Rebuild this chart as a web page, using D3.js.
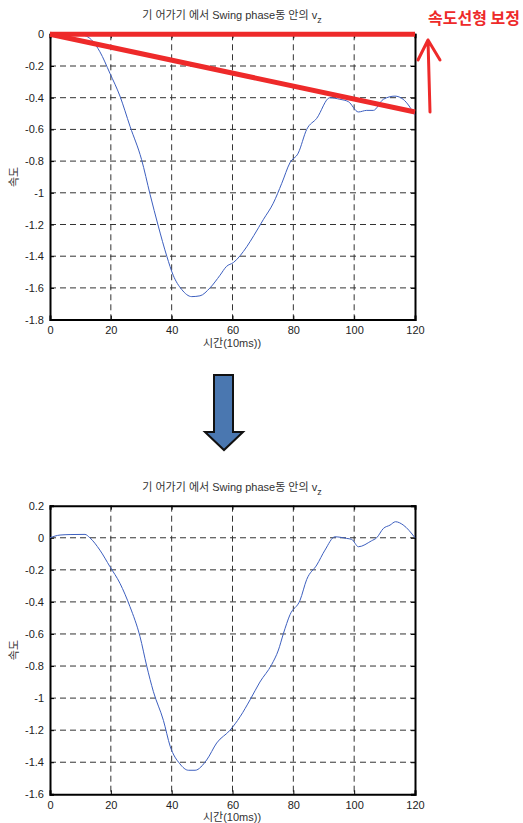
<!DOCTYPE html>
<html>
<head>
<meta charset="utf-8">
<script src="https://cdn.jsdelivr.net/npm/d3@7"></script>
<style>
  body { margin: 0; background: #fff; }
  text { font-family: "Liberation Sans", Arial, "Noto Sans CJK KR", sans-serif; }
</style>
</head>
<body>
<svg id="canvas" width="523" height="823"></svg>
<script>
// top chart: raw v_z (time in 10ms units)
const rawT = [0, 5, 10.4, 13.7, 16.4, 19.7, 23, 26.3, 30.1, 32.9, 35.6, 38.4, 40.5, 43.3, 46.6, 49.3, 52.6, 55.9, 58, 60.3, 64.7, 67, 70.1, 73.4, 76.2, 78.9, 81.6, 84.4, 87.7, 92, 95.3, 98.1, 101.4, 104.1, 106.3, 109.6, 113.4, 116.1, 120],
    rawV = [0, -0.002, -0.004, -0.036, -0.11, -0.246, -0.39, -0.58, -0.79, -1.01, -1.21, -1.40, -1.52, -1.61, -1.655, -1.65, -1.60, -1.52, -1.465, -1.44, -1.34, -1.27, -1.17, -1.066, -0.94, -0.81, -0.75, -0.60, -0.53, -0.40, -0.41, -0.425, -0.49, -0.48, -0.48, -0.41, -0.39, -0.41, -0.51];

// bottom chart: corrected v_z
const corT = [0, 3.3, 6.6, 11.5, 13.1, 16.4, 19.7, 23, 26.3, 29.6, 31.8, 34, 37.3, 39.5, 42.7, 45.5, 47.7, 51.5, 54.8, 59.2, 62.5, 65.8, 69, 72.9, 75.1, 76.7, 78.9, 82.2, 84.4, 87.7, 90.4, 93.7, 97.5, 99.2, 101.4, 105.7, 107.4, 109.6, 111.8, 113.6, 116.1, 120],
    corV = [0, 0.017, 0.02, 0.021, 0.0, -0.077, -0.18, -0.284, -0.43, -0.617, -0.80, -0.96, -1.14, -1.30, -1.41, -1.45, -1.45, -1.386, -1.28, -1.20, -1.116, -1.01, -0.90, -0.79, -0.70, -0.60, -0.48, -0.39, -0.26, -0.17, -0.077, 0.006, -0.004, -0.01, -0.056, -0.019, 0.0, 0.058, 0.079, 0.10, 0.08, 0.0];

// red correction lines drawn over top chart
const zeroLine = [[0, 0], [120, 0]],
    driftLine = [[0, 0], [120, -0.49]];

const xTicks = [0, 20, 40, 60, 80, 100, 120],
    topYTicks = [0, -0.2, -0.4, -0.6, -0.8, -1, -1.2, -1.4, -1.6, -1.8],
    botYTicks = [0.2, 0, -0.2, -0.4, -0.6, -0.8, -1, -1.2, -1.4, -1.6];

const titleText = '기 어가기 에서 Swing phase동 안의 v',
    xLabel = '시간(10ms))',
    yLabel = '속도',
    noteText = '속도선형 보정';

const svg = d3.select('#canvas');

function drawChart(g, yDomain, yTicks, t, v, top, bottom, titleY) {
    const x = d3.scaleLinear().domain([0, 120]).range([50, 415]),
        y = d3.scaleLinear().domain(yDomain).range([bottom, top]);

    // grid
    g.append('g').selectAll('line.vg').data(xTicks.slice(1, -1)).join('line')
        .attr('x1', d => x(d)).attr('x2', d => x(d))
        .attr('y1', top).attr('y2', bottom)
        .attr('stroke', '#333').attr('stroke-width', 1).attr('stroke-dasharray', '6,4');
    g.append('g').selectAll('line.hg').data(yTicks.filter(d => d !== yDomain[0] && d !== yDomain[1])).join('line')
        .attr('x1', 50).attr('x2', 415)
        .attr('y1', d => y(d)).attr('y2', d => y(d))
        .attr('stroke', '#333').attr('stroke-width', 1).attr('stroke-dasharray', '6,4');

    // axes
    const fmt = d => d === 0 ? '0' : d3.format('')(d).replace('−', '-');
    const yAx = g.append('g').attr('transform', 'translate(50,0)')
        .call(d3.axisLeft(y).tickValues(yTicks).tickSize(-4).tickPadding(6).tickFormat(fmt));
    const yAxR = g.append('g').attr('transform', 'translate(415,0)')
        .call(d3.axisRight(y).tickValues(yTicks).tickSize(-4).tickFormat(''));
    const xAx = g.append('g').attr('transform', `translate(0,${bottom})`)
        .call(d3.axisBottom(x).tickValues(xTicks).tickSize(-4).tickPadding(7));
    const xAxT = g.append('g').attr('transform', `translate(0,${top})`)
        .call(d3.axisTop(x).tickValues(xTicks).tickSize(-4).tickFormat(''));
    [yAx, yAxR, xAx, xAxT].forEach(a => {
        a.select('.domain').attr('stroke', '#000').attr('stroke-width', 2);
        a.selectAll('text').attr('font-size', 11).attr('fill', '#222');
    });

    // line
    g.append('path')
        .datum(d3.zip(t, v))
        .attr('fill', 'none')
        .attr('stroke', '#3d5fbf')
        .attr('stroke-width', 1)
        .attr('d', d3.line().x(d => x(d[0])).y(d => y(d[1])).curve(d3.curveMonotoneX));

    // title
    const tt = g.append('text').attr('x', 232).attr('y', titleY)
        .attr('text-anchor', 'middle').attr('font-size', 11).attr('fill', '#333').text(titleText);
    tt.append('tspan').attr('dy', 4).attr('font-size', 9).text('z');

    g.append('text').attr('x', 232).attr('y', bottom + 27)
        .attr('text-anchor', 'middle').attr('font-size', 11).attr('fill', '#333').text(xLabel);
    g.append('text').attr('transform', `translate(18,${(top + bottom) / 2}) rotate(-90)`)
        .attr('text-anchor', 'middle').attr('font-size', 11).attr('fill', '#333').text(yLabel);

    return { x, y };
}

const topG = svg.append('g');
const topS = drawChart(topG, [-1.8, 0], topYTicks, rawT, rawV, 34.3, 319.6, 19);

// red correction lines
const redLine = d3.line().x(d => topS.x(d[0])).y(d => topS.y(d[1]));
[zeroLine, driftLine].forEach(l => {
    topG.append('path').attr('d', redLine(l))
        .attr('stroke', '#ee2a2a').attr('stroke-width', 5).attr('fill', 'none');
});

// red annotation
svg.append('text').attr('x', 428).attr('y', 24)
    .attr('font-size', 16).attr('font-weight', 'bold').attr('fill', '#ee2a2a')
    .style('font-family', '"Noto Sans CJK KR", sans-serif').text(noteText);
svg.append('path').attr('d', 'M430,112 L428,40 M418,60 L428,40 L440,60')
    .attr('stroke', '#ee2a2a').attr('stroke-width', 3).attr('fill', 'none')
    .attr('stroke-linecap', 'round').attr('stroke-linejoin', 'round');

// blue arrow between charts
svg.append('path').attr('d', 'M214,375 L233,375 L233,432 L243,432 L224,450 L205,432 L214,432 Z')
    .attr('fill', '#4a77b0').attr('stroke', '#111').attr('stroke-width', 2).attr('stroke-linejoin', 'miter');

const botG = svg.append('g');
drawChart(botG, [-1.6, 0.2], botYTicks, corT, corV, 505.7, 794.3, 491);
</script>
</body>
</html>
